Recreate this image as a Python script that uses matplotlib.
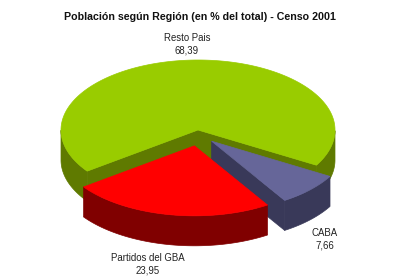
import numpy as np
import matplotlib.pyplot as plt
from matplotlib.patches import Polygon

regiones = ['Resto Pais', 'Partidos del GBA', 'CABA']
porcentajes = [68.39, 23.95, 7.66]
etiquetas = ['68,39', '23,95', '7,66']
colores_top = ['#99cc00', '#ff0000', '#666699']
colores_lado = ['#5f7a00', '#800000', '#393959']
explode = [0, 0.23, 0.23]

# geometria del "pastel 3D" en pixeles
cx, cy, rx, ry, prof = 198, 130, 137, 70, 30
inicio = -30.2
pos_etiquetas = [(187, 44), (148, 264), (325, 239)]

plt.rcParams['font.family'] = ['Liberation Sans', 'DejaVu Sans']

fig = plt.figure(figsize=(4, 2.78), dpi=100)
ax = fig.add_axes([0, 0, 1, 1])
ax.set_xlim(0, 400)
ax.set_ylim(278, 0)
ax.axis('off')


def punto(t, ox, oy, abajo=0):
    r = np.radians(t)
    return cx + rx * np.cos(r) + ox, cy - ry * np.sin(r) + oy + abajo


total = sum(porcentajes)
angulos = []
a = inicio
for p in porcentajes:
    b = a + 360 * p / total
    angulos.append((a, b))
    a = b

# dibujar de atras hacia adelante
orden = sorted(range(len(porcentajes)),
               key=lambda i: -np.sin(np.radians(sum(angulos[i]) / 2)))

for i in orden:
    t1, t2 = angulos[i]
    mid = np.radians((t1 + t2) / 2)
    ox = explode[i] * np.cos(mid) * rx * 0.6
    oy = -explode[i] * np.sin(mid) * ry
    apex = (cx + ox, cy + oy)
    apex_b = (cx + ox, cy + oy + prof)
    kw = dict(facecolor=colores_lado[i], edgecolor=colores_lado[i], lw=0.5)

    # paredes radiales visibles
    for t, n in ((t1, t1 - 90), (t2, t2 + 90)):
        if np.sin(np.radians(n)) < 0:
            pts = [apex, punto(t, ox, oy), punto(t, ox, oy, prof), apex_b]
            ax.add_patch(Polygon(pts, closed=True, **kw))

    # pared exterior (frente)
    ts = np.linspace(t1, t2, 400)
    vis = np.sin(np.radians(ts)) < 0
    tramos = []
    actual = []
    for t, v in zip(ts, vis):
        if v:
            actual.append(t)
        elif actual:
            tramos.append(actual)
            actual = []
    if actual:
        tramos.append(actual)
    for tr in tramos:
        tr = np.array(tr)
        arriba = [punto(t, ox, oy) for t in tr]
        abajo = [punto(t, ox, oy, prof) for t in tr[::-1]]
        ax.add_patch(Polygon(arriba + abajo, closed=True, **kw))

    # cara superior
    arco = [punto(t, ox, oy) for t in np.linspace(t1, t2, 300)]
    ax.add_patch(Polygon([apex] + arco, closed=True,
                         facecolor=colores_top[i], edgecolor=colores_top[i], lw=0.5))

for nombre, val, (x, y) in zip(regiones, etiquetas, pos_etiquetas):
    ax.text(x, y, nombre + '\n' + val, ha='center', va='center',
            fontsize=6.9, color='#222222', linespacing=1.3)

ax.text(200, 17, 'Población según Región (en % del total) - Censo 2001',
        ha='center', va='center', fontsize=7.7, fontweight='bold', color='#111111')

fig.savefig('out.png', dpi=100, facecolor='white')
